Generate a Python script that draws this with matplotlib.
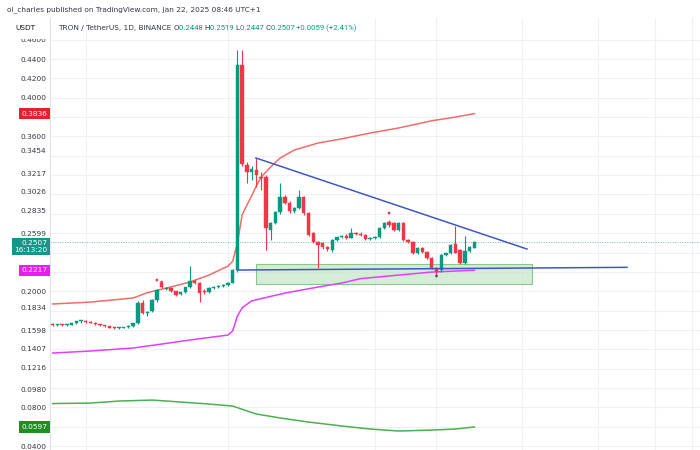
import numpy as np
import matplotlib
matplotlib.use("Agg")
import matplotlib.pyplot as plt
import matplotlib.transforms as mtransforms
from matplotlib.patches import Rectangle

# ---------------- data (TRX/USDT daily, Oct 25 2024 -> Jan 22 2025) ----------------
opens = [0.1655, 0.1648, 0.1655, 0.1650, 0.1656, 0.1668, 0.1688, 0.1692, 0.1682, 0.1672,
         0.1660, 0.1648, 0.1636, 0.1625, 0.1620, 0.1622, 0.1630, 0.1642, 0.1668, 0.1880,
         0.1778, 0.1800, 0.1905, 0.2080, 0.2025, 0.2038, 0.1998, 0.1968, 0.1990, 0.2040,
         0.2110, 0.2085, 0.2005, 0.1990, 0.2030, 0.2045, 0.2052, 0.2062, 0.2090, 0.2215,
         0.4340, 0.3300, 0.3232, 0.3253, 0.3180, 0.3180, 0.2633, 0.2705, 0.2819, 0.2974,
         0.2912, 0.2829, 0.2860, 0.2974, 0.2808, 0.2602, 0.2509, 0.2498, 0.2460, 0.2426,
         0.2529, 0.2560, 0.2575, 0.2555, 0.2600, 0.2595, 0.2581, 0.2535, 0.2550, 0.2560,
         0.2653, 0.2715, 0.2705, 0.2633, 0.2705, 0.2529, 0.2509, 0.2395, 0.2447, 0.2405,
         0.2343, 0.2240, 0.2219, 0.2374, 0.2395, 0.2488, 0.2426, 0.2291, 0.2420, 0.2448]
closes = [0.1648, 0.1655, 0.1650, 0.1656, 0.1668, 0.1688, 0.1692, 0.1682, 0.1672, 0.1660,
          0.1648, 0.1636, 0.1625, 0.1620, 0.1622, 0.1630, 0.1642, 0.1668, 0.1880, 0.1778,
          0.1790, 0.1905, 0.2012, 0.2045, 0.2038, 0.1998, 0.1965, 0.1990, 0.2040, 0.2110,
          0.2085, 0.1985, 0.1990, 0.2030, 0.2045, 0.2052, 0.2062, 0.2090, 0.2215, 0.4340,
          0.3315, 0.3232, 0.3263, 0.3201, 0.3170, 0.2653, 0.2705, 0.2819, 0.2974, 0.2912,
          0.2829, 0.2860, 0.2974, 0.2808, 0.2581, 0.2509, 0.2478, 0.2457, 0.2435, 0.2529,
          0.2560, 0.2575, 0.2555, 0.2600, 0.2590, 0.2580, 0.2535, 0.2550, 0.2565, 0.2653,
          0.2705, 0.2680, 0.2633, 0.2705, 0.2529, 0.2509, 0.2395, 0.2447, 0.2410, 0.2343,
          0.2240, 0.2198, 0.2374, 0.2395, 0.2478, 0.2395, 0.2291, 0.2420, 0.2457, 0.2507]
highs = [0.1668, 0.1662, 0.1665, 0.1662, 0.1672, 0.1695, 0.1700, 0.1698, 0.1690, 0.1680,
         0.1665, 0.1655, 0.1642, 0.1635, 0.1630, 0.1635, 0.1648, 0.1675, 0.1900, 0.1905,
         0.1800, 0.1915, 0.2020, 0.2090, 0.2045, 0.2045, 0.2005, 0.1995, 0.2045, 0.2260,
         0.2125, 0.2095, 0.2020, 0.2040, 0.2055, 0.2060, 0.2070, 0.2100, 0.2230, 0.4490,
         0.4490, 0.3340, 0.3290, 0.3377, 0.3232, 0.3200, 0.2720, 0.2830, 0.3118, 0.2990,
         0.2930, 0.2875, 0.3046, 0.2985, 0.2820, 0.2610, 0.2520, 0.2510, 0.2470, 0.2540,
         0.2565, 0.2585, 0.2590, 0.2653, 0.2612, 0.2610, 0.2590, 0.2560, 0.2575, 0.2660,
         0.2720, 0.2740, 0.2712, 0.2712, 0.2720, 0.2540, 0.2515, 0.2460, 0.2460, 0.2420,
         0.2350, 0.2250, 0.2380, 0.2400, 0.2490, 0.2674, 0.2440, 0.2571, 0.2470, 0.2519]
lows = [0.1642, 0.1640, 0.1645, 0.1644, 0.1650, 0.1660, 0.1675, 0.1675, 0.1668, 0.1655,
        0.1640, 0.1630, 0.1618, 0.1612, 0.1610, 0.1615, 0.1625, 0.1635, 0.1660, 0.1765,
        0.1745, 0.1790, 0.1890, 0.2030, 0.2010, 0.1990, 0.1955, 0.1960, 0.1985, 0.2030,
        0.2075, 0.1885, 0.1975, 0.1980, 0.2020, 0.2035, 0.2045, 0.2050, 0.2080, 0.2200,
        0.3290, 0.3118, 0.3149, 0.3077, 0.3046, 0.2426, 0.2529, 0.2690, 0.2800, 0.2900,
        0.2810, 0.2810, 0.2845, 0.2790, 0.2570, 0.2500, 0.2240, 0.2440, 0.2420, 0.2410,
        0.2520, 0.2545, 0.2540, 0.2545, 0.2580, 0.2570, 0.2525, 0.2525, 0.2540, 0.2550,
        0.2640, 0.2660, 0.2620, 0.2620, 0.2520, 0.2500, 0.2380, 0.2385, 0.2400, 0.2330,
        0.2230, 0.2170, 0.2200, 0.2360, 0.2385, 0.2390, 0.2280, 0.2280, 0.2410, 0.2447]

# indicator lines (candle index, value)
red_idx = [0, 8, 17, 20, 25, 29, 33, 37, 38, 39, 40, 41, 42, 43, 44, 46, 48, 51, 56, 61, 67, 73, 80, 85, 89]
red_val = [0.1868, 0.1888, 0.1930, 0.1985, 0.2045, 0.2095, 0.2167, 0.2260, 0.2310, 0.2500,
           0.2790, 0.2890, 0.2985, 0.3090, 0.3180, 0.3284, 0.3377, 0.3459, 0.3532, 0.3575,
           0.3635, 0.3687, 0.3762, 0.3800, 0.3836]
mag_idx = [0, 8, 17, 23, 29, 37, 38, 39, 40, 42, 45, 49, 56, 61, 65, 73, 80, 89]
mag_val = [0.1361, 0.1382, 0.1413, 0.1454, 0.1496, 0.1547, 0.1590, 0.1744, 0.1830, 0.1900,
           0.1935, 0.1981, 0.2043, 0.2085, 0.2130, 0.2167, 0.2198, 0.2217]
grn_idx = [0, 8, 14, 21, 27, 33, 38, 43, 48, 54, 61, 67, 73, 80, 85, 89]
grn_val = [0.0839, 0.0844, 0.0865, 0.0875, 0.0855, 0.0834, 0.0813, 0.0731, 0.0690, 0.0648,
           0.0607, 0.0576, 0.0555, 0.0565, 0.0576, 0.0597]

# small dot markers
dot_idx = [22, 23, 71, 81]
dot_val = [0.2116, 0.2095, 0.2808, 0.2157]

# drawings
trend_x = [42.9, 100.1]
trend_y = [0.3377, 0.2436]
support_x = [39.0, 121.2]
support_y = [0.2219, 0.2247]
zone_x = [42.9, 101.1]
zone_y = [0.2074, 0.2281]

# price scale
tick_vals = [0.46, 0.44, 0.42, 0.40, 0.36, 0.3454, 0.3217, 0.3026, 0.2835, 0.2599,
             0.20, 0.1834, 0.1598, 0.1407, 0.1216, 0.0980, 0.08, 0.04]
tick_labels = ["0.4600", "0.4400", "0.4200", "0.4000", "0.3600", "0.3454", "0.3217", "0.3026",
               "0.2835", "0.2599", "0.2000", "0.1834", "0.1598", "0.1407", "0.1216", "0.0980",
               "0.0800", "0.0400"]
grid_x = [7, 37, 68, 81, 99, 115, 127, 135]
last_price = 0.2507

# ---------------- figure ----------------
W, H = 700, 450
fig = plt.figure(figsize=(7, 4.5), dpi=100)
fig.patch.set_facecolor("white")
ax = fig.add_axes([50 / W, 0, 1 - 50 / W, 1 - 18 / H])
ax.set_xlim(-0.55, 136.6)
ax.set_ylim(0.0359, 0.4824)

UP = "#089981"
DN = "#f23645"
FS = 5.3
TXT = "#131722"

# grid
for g in np.arange(0.04, 0.47, 0.02):
    ax.axhline(g, color="#eef0f5", lw=0.8, zorder=0)
for g in grid_x:
    ax.axvline(g, color="#eef0f5", lw=0.8, zorder=0)

# last price dotted line
ax.axhline(last_price, color=UP, lw=0.7, ls=(0, (1, 1.5)), alpha=0.6, zorder=1)

# zone rectangle
ax.add_patch(Rectangle((zone_x[0], zone_y[0]), zone_x[1] - zone_x[0], zone_y[1] - zone_y[0],
                       facecolor="#c8e6c9", edgecolor="#66bb6a", lw=0.8, alpha=0.75, zorder=2))

# indicator lines
ax.plot(red_idx, red_val, color="#ef5350", lw=1.1, alpha=0.85, zorder=3)
ax.plot(mag_idx, mag_val, color="#e040fb", lw=1.1, zorder=3)
ax.plot(grn_idx, grn_val, color="#4caf50", lw=1.1, zorder=3)

# candles
o = np.array(opens); c = np.array(closes); hi = np.array(highs); lo = np.array(lows)
x = np.arange(len(o))
up = c >= o
cols = np.where(up, UP, DN)
ax.vlines(x, lo, hi, colors=cols, lw=0.8, zorder=4)
bot = np.minimum(o, c)
hgt = np.maximum(np.abs(c - o), 0.0012)
ax.bar(x, hgt, bottom=bot, width=0.72, color=cols, edgecolor=cols, lw=0.3, zorder=5)

ax.scatter(dot_idx, dot_val, s=4, color=[DN, DN, DN, "#2a6b60"], zorder=6, lw=0)

# drawings
ax.plot(trend_x, trend_y, color="#3f57c6", lw=1.1, zorder=6)
ax.plot(support_x, support_y, color="#3f57c6", lw=1.1, zorder=6)

# axes styling
for s in ["top", "right", "bottom"]:
    ax.spines[s].set_visible(False)
ax.spines["left"].set_color("#e0e3eb")
ax.spines["left"].set_linewidth(0.8)
ax.set_xticks([])
ax.set_yticks(tick_vals)
ax.set_yticklabels(tick_labels)
ax.tick_params(axis="y", length=0, pad=2.5, labelsize=FS, labelcolor="#333842")

# coloured price-scale boxes
bt = mtransforms.blended_transform_factory(fig.transFigure, ax.transData)
def box(v, txt, fc, dy=0):
    ax.annotate(txt, xy=(47.5 / W, v), xycoords=bt, xytext=(0, dy), textcoords="offset points",
                ha="right", va="center", fontsize=FS, color="white", linespacing=1.1,
                bbox=dict(boxstyle="square,pad=0.35", fc=fc, ec="none"),
                annotation_clip=False, zorder=20)

box(red_val[-1], "0.3836", "#e8202c")
box(mag_val[-1], "0.2217", "#ea1cf2")
box(grn_val[-1], "0.0597", "#1f8f24")
box(last_price, "0.2507\n16:13:20", "#16968a", dy=-3)

# header
fig.patches.append(Rectangle((0, 1 - 39 / H), 48 / W, 21 / H, transform=fig.transFigure,
                             facecolor="white", edgecolor="none", zorder=10))
fig.text(7 / W, 1 - 10 / H, "ol_charles published on TradingView.com, Jan 22, 2025 08:46 UTC+1",
         fontsize=FS, color="#333842", va="center", ha="left")
fig.text(15 / W, 1 - 28 / H, "USDT", fontsize=FS, color=TXT, va="center", ha="left", zorder=11)

segments = [("TRON / TetherUS, 1D, BINANCE ", "#333842"), ("O", "#333842"), ("0.2448 ", UP),
            ("H", "#333842"), ("0.2519 ", UP), ("L", "#333842"), ("0.2447 ", UP),
            ("C", "#333842"), ("0.2507 ", UP), ("+0.0059 (+2.41%)", UP)]
fig.canvas.draw()
r = fig.canvas.get_renderer()
xp = 58
for k, (s, col) in enumerate(segments):
    fam = "DejaVu Sans" if k == 0 else "Roboto"
    fsz = FS if k == 0 else 5.6
    t = fig.text(xp / W, 1 - 28 / H, s, fontsize=fsz, color=col, va="center", ha="left",
                 family=fam)
    bb = t.get_window_extent(renderer=r)
    xp += bb.width

fig.savefig("out.png", dpi=100, facecolor="white")
